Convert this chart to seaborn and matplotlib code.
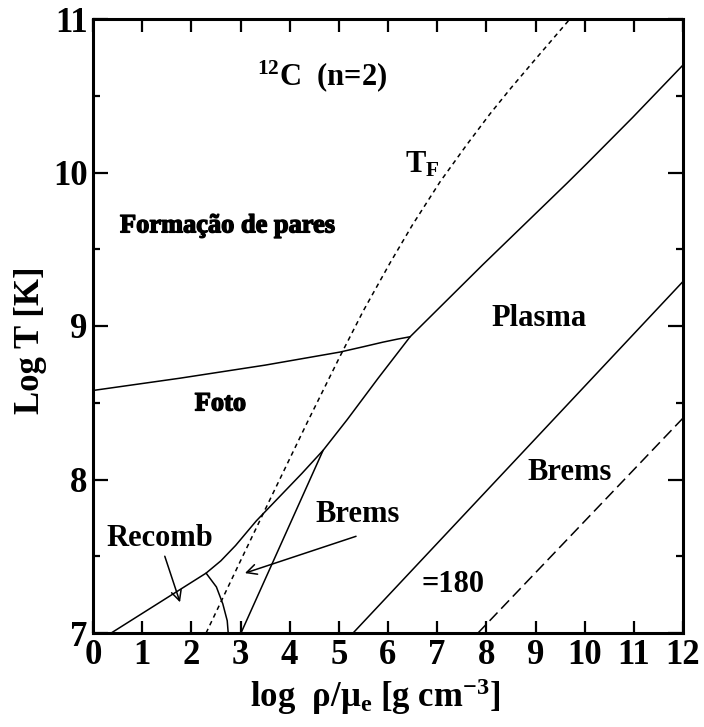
import numpy as np
import pandas as pd
import matplotlib
matplotlib.use("Agg")
import matplotlib.pyplot as plt
import seaborn as sns
from matplotlib import patheffects as pe

# ---------------- data ----------------
# main boundary (Recomb/Foto -> Plasma)
main_x = [0.37, 2.30, 2.60, 2.90, 3.32, 3.80, 4.25, 4.68, 5.17, 5.80, 6.45, 7.93, 9.64, 10.05, 10.98, 12.0]
main_y = [7.00, 7.39, 7.47, 7.57, 7.73, 7.89, 8.04, 8.19, 8.39, 8.66, 8.93, 9.40, 9.93, 10.06, 10.36, 10.70]
# Foto / pair formation boundary
foto_x = [0.0, 1.77, 3.50, 5.02, 5.50, 5.90, 6.20, 6.45]
foto_y = [8.58, 8.66, 8.745, 8.83, 8.865, 8.895, 8.915, 8.93]
# Fermi temperature (dotted)
tf_x = [2.30, 3.00, 3.54, 4.37, 5.02, 5.50, 6.04, 6.50, 7.06, 7.60, 8.07, 8.50, 8.95, 9.70]
tf_y = [7.00, 7.47, 7.83, 8.38, 8.80, 9.10, 9.41, 9.66, 9.94, 10.18, 10.38, 10.55, 10.72, 11.00]
# left Brems boundary
bremsl_x = [3.01, 4.68]
bremsl_y = [7.00, 8.19]
# small arc Recomb / Brems
arc_x = [2.30, 2.51, 2.64, 2.73, 2.75]
arc_y = [7.39, 7.30, 7.19, 7.08, 7.00]
# right Plasma / Brems boundary
right_x = [5.29, 12.0]
right_y = [7.00, 9.29]
# Gamma = 180 (dashed)
gam_x = [7.83, 12.0]
gam_y = [7.00, 8.40]

x_ticks = list(range(0, 13))
y_ticks = list(range(7, 12))

# ---------------- style ----------------
sns.set_theme(style="ticks", rc={
    "axes.edgecolor": "black", "text.color": "black", "axes.labelcolor": "black",
    "xtick.color": "black", "ytick.color": "black", "axes.facecolor": "white",
})
plt.rcParams["font.family"] = ["Liberation Serif", "DejaVu Serif"]
plt.rcParams["font.weight"] = "bold"
plt.rcParams["axes.labelweight"] = "bold"
plt.rcParams["mathtext.fontset"] = "custom"
plt.rcParams["mathtext.rm"] = "Liberation Serif:bold"
plt.rcParams["mathtext.it"] = "Liberation Serif:bold"
plt.rcParams["mathtext.bf"] = "Liberation Serif:bold"

fig = plt.figure(figsize=(7.04, 7.27), dpi=100)
ax = fig.add_axes([93 / 704, 1 - 633 / 727, 590 / 704, 614 / 727])

lw = 1.1
kw = dict(ax=ax, color="black", linewidth=lw, sort=False, estimator=None, legend=False)
sns.lineplot(x=main_x, y=main_y, **kw)
sns.lineplot(x=foto_x, y=foto_y, **kw)
sns.lineplot(x=bremsl_x, y=bremsl_y, **kw)
sns.lineplot(x=arc_x, y=arc_y, **kw)
sns.lineplot(x=right_x, y=right_y, **kw)
sns.lineplot(x=tf_x, y=tf_y, linestyle=(0, (3.0, 2.6)), **kw)
sns.lineplot(x=gam_x, y=gam_y, linestyle=(0, (7.5, 3.5)), **kw)

ax.set_xlim(0, 12)
ax.set_ylim(7, 11)
ax.set_xticks(x_ticks)
ax.set_xticklabels([str(t) for t in x_ticks])
ax.set_yticks(y_ticks)
ax.set_yticklabels([str(t) for t in y_ticks])
ax.set_yticks(np.arange(7.5, 11, 1.0), minor=True)
ax.tick_params(which="both", direction="in", top=True, right=True, width=1.6,
               labelsize=25)
ax.tick_params(axis="x", which="major", length=9, pad=4)
ax.tick_params(axis="y", which="major", length=11, pad=4)
ax.tick_params(axis="y", which="minor", length=5)
for lab in ax.get_xticklabels() + ax.get_yticklabels():
    lab.set_fontweight("bold")
for s in ax.spines.values():
    s.set_linewidth(2.2)
    s.set_color("black")

ax.set_xlabel(r"log  ρ/μ$_{\mathrm{e}}$ [g cm$^{-3}$]", fontsize=25, fontweight="bold")
ax.set_ylabel("Log T [K]", fontsize=25, fontweight="bold")
ax.xaxis.set_label_coords(0.478, -0.070)
ax.yaxis.set_label_coords(-0.078, 0.477)

# ---------------- annotations ----------------
heavy = [pe.withStroke(linewidth=1.0, foreground="black")]
ax.text(3.34, 10.57, r"$^{12}$C  (n=2)", fontsize=22, va="baseline", ha="left")
ax.text(6.35, 10.0, r"T$_{\mathrm{F}}$", fontsize=22, va="baseline", ha="left")
ax.text(0.55, 9.61, "Formação de pares", fontsize=19, va="baseline", ha="left",
        path_effects=heavy)
ax.text(2.07, 8.45, "Foto", fontsize=19, va="baseline", ha="left", path_effects=heavy)
ax.text(8.11, 9.0, "Plasma", fontsize=22, va="baseline", ha="left")
ax.text(8.83, 8.0, "Brems", fontsize=22, va="baseline", ha="left")
ax.text(4.52, 7.72, "Brems", fontsize=22, va="baseline", ha="left")
ax.text(0.27, 7.57, "Recomb", fontsize=22, va="baseline", ha="left")
ax.text(6.69, 7.27, "=180", fontsize=22, va="baseline", ha="left")

arrow = dict(arrowstyle="->", lw=1.1, color="black", mutation_scale=18,
             shrinkA=0, shrinkB=0)
ax.annotate("", xy=(1.77, 7.20), xytext=(1.46, 7.50), arrowprops=arrow)
ax.annotate("", xy=(3.09, 7.39), xytext=(5.35, 7.63), arrowprops=arrow)

fig.savefig("out.png", dpi=100)
